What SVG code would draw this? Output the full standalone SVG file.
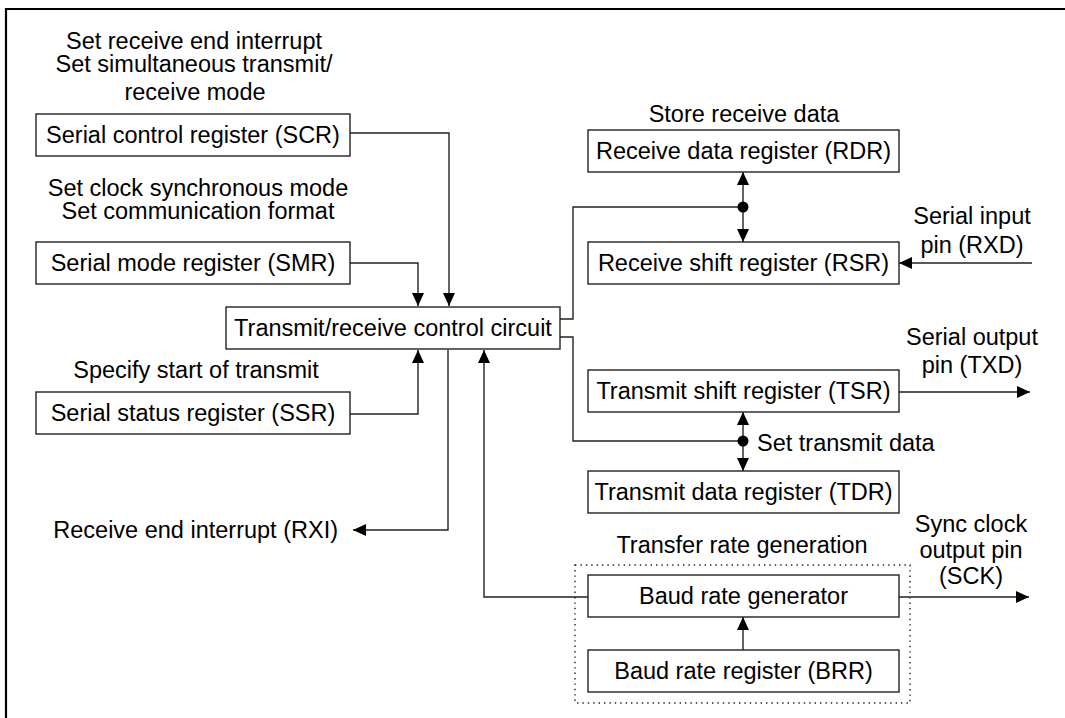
<svg xmlns="http://www.w3.org/2000/svg" width="1065" height="718" viewBox="0 0 1065 718">
<defs>
<style>
.box{fill:#fff;stroke:#222;stroke-width:1.4}
.t{font-family:"Liberation Sans",Arial,sans-serif;font-size:23.5px;fill:#000;text-anchor:middle}
.e{text-anchor:end}
.s{text-anchor:start}
.c{fill:none;stroke:#222;stroke-width:1.4}
.dot{fill:#000}
</style>
<marker id="ah" markerUnits="userSpaceOnUse" markerWidth="14" markerHeight="12" refX="13" refY="6" orient="auto-start-reverse">
<path d="M0,0 L13,6 L0,12 z" fill="#000"/>
</marker>
</defs>
<rect width="1065" height="718" fill="#fff"/>
<path d="M6,718 V9 H1065" fill="none" stroke="#000" stroke-width="2.2"/>

<g id="labels">
<text class="t" x="194" y="49">Set receive end interrupt</text>
<text class="t" x="194" y="72">Set simultaneous transmit/</text>
<text class="t" x="195" y="100">receive mode</text>
<text class="t" x="198" y="196">Set clock synchronous mode</text>
<text class="t" x="198" y="219">Set communication format</text>
<text class="t" x="196" y="378">Specify start of transmit</text>
<text class="t e" x="338" y="538">Receive end interrupt (RXI)</text>
<text class="t" x="744" y="122">Store receive data</text>
<text class="t" x="972" y="224">Serial input</text>
<text class="t" x="972" y="253">pin (RXD)</text>
<text class="t" x="972" y="345">Serial output</text>
<text class="t" x="972" y="373">pin (TXD)</text>
<text class="t s" x="757" y="451">Set transmit data</text>
<text class="t" x="742" y="553">Transfer rate generation</text>
<text class="t" x="971" y="532">Sync clock</text>
<text class="t" x="971" y="558">output pin</text>
<text class="t" x="971" y="584">(SCK)</text>
</g>

<g id="connectors">
<path class="c" d="M350,133 H449 V306" marker-end="url(#ah)"/>
<path class="c" d="M350,263 H418 V306" marker-end="url(#ah)"/>
<path class="c" d="M350,414 H418 V350" marker-end="url(#ah)"/>
<path class="c" d="M448,350 V530 H353" marker-end="url(#ah)"/>
<path class="c" d="M588,597 H484 V350" marker-end="url(#ah)"/>
<path class="c" d="M560,319 H573 V207 H743"/>
<path class="c" d="M743,172 V242" marker-start="url(#ah)" marker-end="url(#ah)"/>
<circle class="dot" cx="743" cy="207" r="5.5"/>
<path class="c" d="M560,337 H573 V441 H743"/>
<path class="c" d="M743,412 V471" marker-start="url(#ah)" marker-end="url(#ah)"/>
<circle class="dot" cx="743" cy="441" r="5.5"/>
<path class="c" d="M1032,263 H899" marker-end="url(#ah)"/>
<path class="c" d="M899,392 H1030" marker-end="url(#ah)"/>
<path class="c" d="M899,597 H1029" marker-end="url(#ah)"/>
<path class="c" d="M743,650 V617" marker-end="url(#ah)"/>
</g>

<g id="trg">
<rect x="575" y="565" width="335" height="138" fill="none" stroke="#222" stroke-width="1.4" stroke-dasharray="1.4,4"/>
</g>

<g id="scr"><rect class="box" x="36" y="114" width="314" height="42"/><text class="t" x="193" y="143">Serial control register (SCR)</text></g>
<g id="smr"><rect class="box" x="36" y="242" width="314" height="42"/><text class="t" x="193" y="271">Serial mode register (SMR)</text></g>
<g id="ssr"><rect class="box" x="36" y="392" width="314" height="42"/><text class="t" x="193" y="421">Serial status register (SSR)</text></g>
<g id="trc"><rect class="box" x="226" y="307" width="334" height="42"/><text class="t" x="393" y="336">Transmit/receive control circuit</text></g>
<g id="rdr"><rect class="box" x="588" y="130" width="311" height="42"/><text class="t" x="743.5" y="159">Receive data register (RDR)</text></g>
<g id="rsr"><rect class="box" x="588" y="242" width="311" height="42"/><text class="t" x="743.5" y="271">Receive shift register (RSR)</text></g>
<g id="tsr"><rect class="box" x="588" y="370" width="311" height="42"/><text class="t" x="743.5" y="399">Transmit shift register (TSR)</text></g>
<g id="tdr"><rect class="box" x="588" y="471" width="311" height="42"/><text class="t" x="743.5" y="500">Transmit data register (TDR)</text></g>
<g id="brg"><rect class="box" x="588" y="575" width="311" height="42"/><text class="t" x="743.5" y="604">Baud rate generator</text></g>
<g id="brr"><rect class="box" x="588" y="650" width="311" height="42"/><text class="t" x="743.5" y="679">Baud rate register (BRR)</text></g>
</svg>
